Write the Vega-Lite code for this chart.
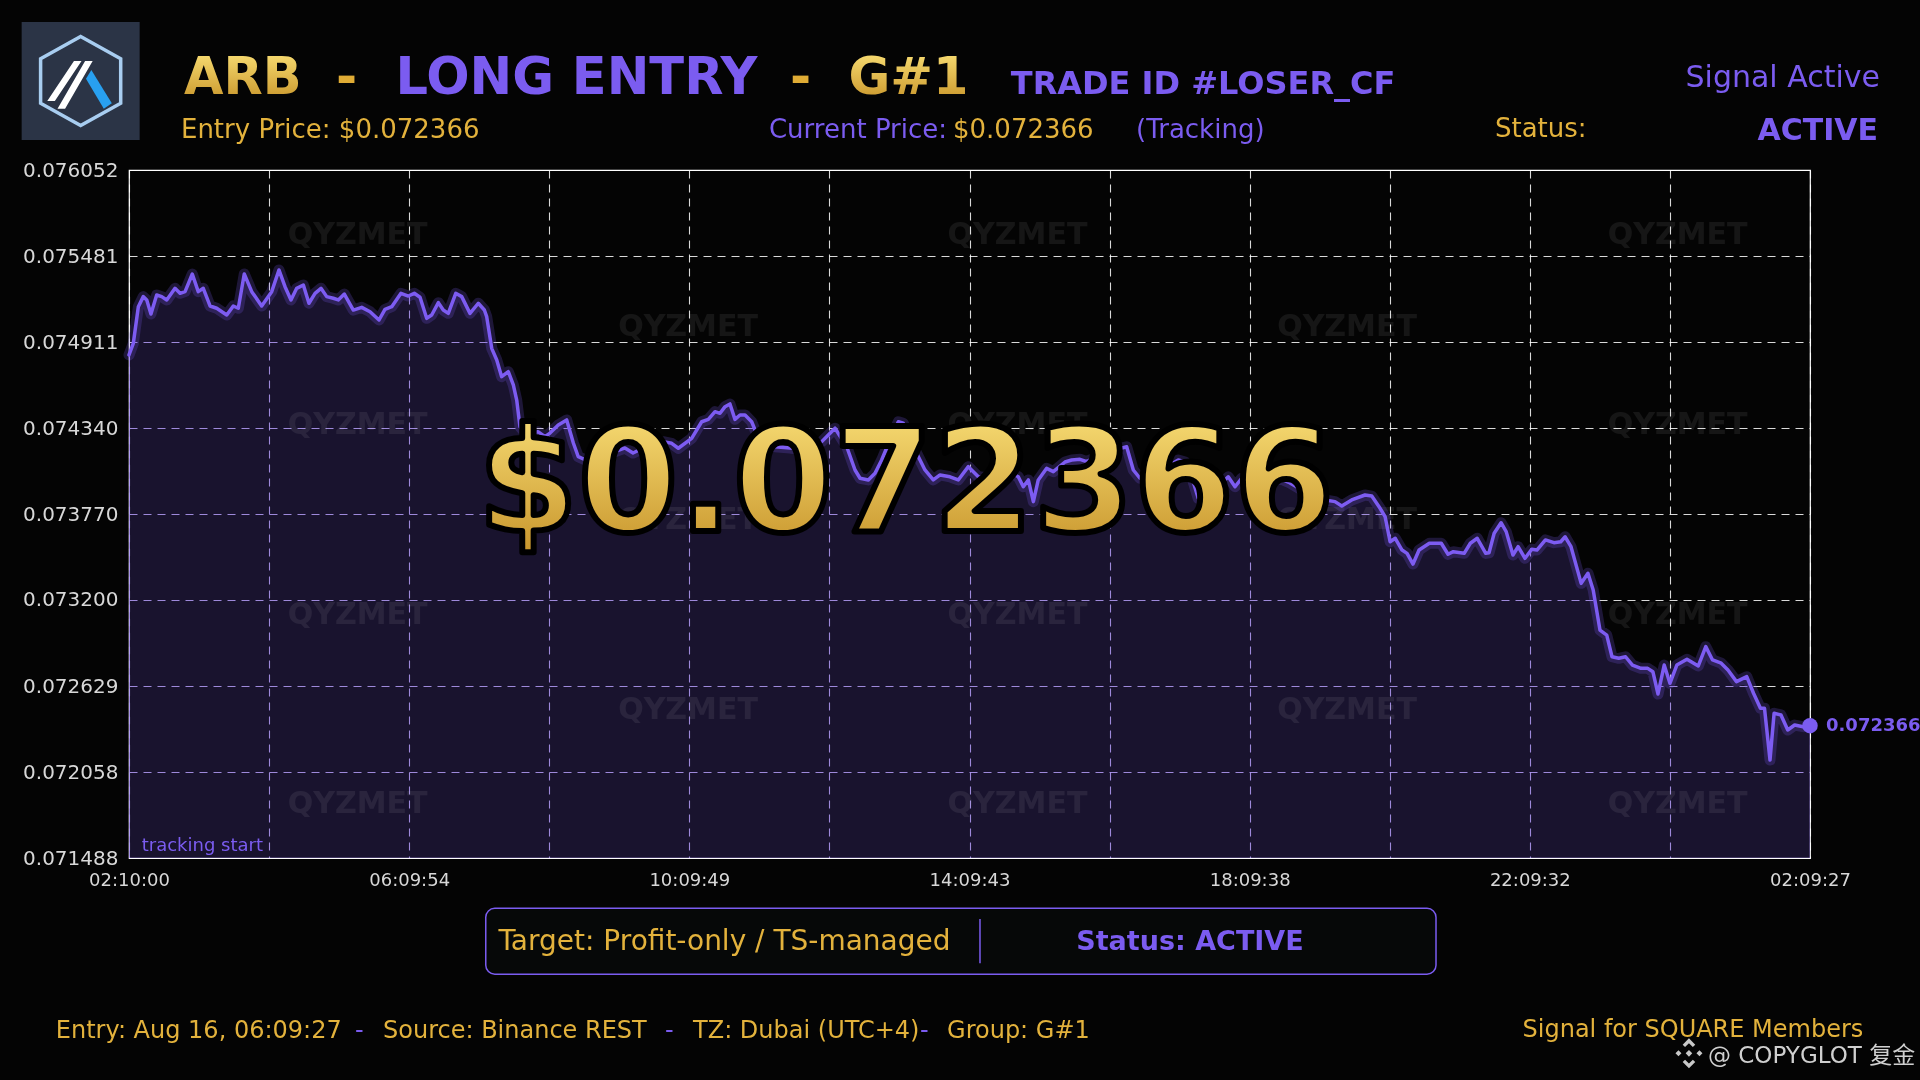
{
  "$schema": "https://vega.github.io/schema/vega-lite/v6.json",
  "width": 1681,
  "height": 688,
  "autosize": {"type": "none"},
  "padding": {"left": 129, "top": 170, "right": 110, "bottom": 222},
  "background": "#040404",
  "config": {
    "font": "DejaVu Sans",
    "view": {"stroke": "#ffffff", "strokeWidth": 1.2},
    "axis": {
      "ticks": false, "domain": false, "labelColor": "#d8d8d8", "labelPadding": 11, "titleOpacity": 0,
      "grid": true, "gridColor": "#ffffff", "gridOpacity": 0.85, "gridDash": [8, 6], "gridWidth": 1.1
    },
    "text": {"baseline": "alphabetic", "align": "left", "font": "DejaVu Sans"}
  },
  "datasets": {
    "price": [
      {"min": 0, "price": 0.074825}, {"min": 3.7, "price": 0.074902}, {"min": 8.0, "price": 0.075145},
      {"min": 12.2, "price": 0.075212}, {"min": 15.2, "price": 0.07519}, {"min": 18.8, "price": 0.075097},
      {"min": 23.7, "price": 0.075223}, {"min": 28.0, "price": 0.075212}, {"min": 32.3, "price": 0.07519},
      {"min": 39.4, "price": 0.075267}, {"min": 43.7, "price": 0.075234}, {"min": 48.0, "price": 0.075245},
      {"min": 54.2, "price": 0.075362}, {"min": 59.3, "price": 0.075245}, {"min": 63.6, "price": 0.075267},
      {"min": 69.4, "price": 0.07515}, {"min": 75.1, "price": 0.075135}, {"min": 83.7, "price": 0.07509},
      {"min": 89.3, "price": 0.07515}, {"min": 93.6, "price": 0.075135}, {"min": 98.7, "price": 0.075362},
      {"min": 105.1, "price": 0.075245}, {"min": 113.6, "price": 0.07515}, {"min": 122.2, "price": 0.075245},
      {"min": 128.4, "price": 0.075389}, {"min": 133.6, "price": 0.075278}, {"min": 138.7, "price": 0.07519},
      {"min": 143.6, "price": 0.075267}, {"min": 149.3, "price": 0.075289}, {"min": 154.1, "price": 0.075168},
      {"min": 159.3, "price": 0.075234}, {"min": 164.4, "price": 0.075267}, {"min": 169.3, "price": 0.075212},
      {"min": 174.9, "price": 0.075201}, {"min": 179.2, "price": 0.07519}, {"min": 184.4, "price": 0.075229},
      {"min": 192.1, "price": 0.075123}, {"min": 199.3, "price": 0.075141}, {"min": 206.4, "price": 0.075112},
      {"min": 214.1, "price": 0.075057}, {"min": 219.2, "price": 0.075128}, {"min": 225.0, "price": 0.075145},
      {"min": 232.9, "price": 0.075234}, {"min": 239.2, "price": 0.075216}, {"min": 244.3, "price": 0.075234},
      {"min": 249.2, "price": 0.075208}, {"min": 254.9, "price": 0.075068}, {"min": 259.2, "price": 0.07509},
      {"min": 264.9, "price": 0.075172}, {"min": 269.1, "price": 0.075123}, {"min": 273.4, "price": 0.075101},
      {"min": 279.8, "price": 0.075234}, {"min": 284.9, "price": 0.075212}, {"min": 292.0, "price": 0.075101},
      {"min": 299.1, "price": 0.075168}, {"min": 304.3, "price": 0.075123}, {"min": 306.3, "price": 0.075079},
      {"min": 310.6, "price": 0.074869}, {"min": 314.9, "price": 0.074792}, {"min": 319.1, "price": 0.074681},
      {"min": 324.8, "price": 0.074714}, {"min": 329.1, "price": 0.074626}, {"min": 332.0, "price": 0.074526},
      {"min": 334.8, "price": 0.074349}, {"min": 340.8, "price": 0.074294}, {"min": 346.2, "price": 0.074309},
      {"min": 350.2, "price": 0.074316}, {"min": 356.2, "price": 0.074283}, {"min": 360.5, "price": 0.074307},
      {"min": 367.6, "price": 0.07436}, {"min": 374.8, "price": 0.074394}, {"min": 380.5, "price": 0.074241},
      {"min": 384.7, "price": 0.07415}, {"min": 394.8, "price": 0.074115}, {"min": 403.3, "price": 0.074142},
      {"min": 413.3, "price": 0.074175}, {"min": 424.7, "price": 0.074208}, {"min": 431.6, "price": 0.074175},
      {"min": 441.9, "price": 0.074214}, {"min": 450.4, "price": 0.074234}, {"min": 457.5, "price": 0.07425},
      {"min": 464.7, "price": 0.074239}, {"min": 470.4, "price": 0.074206}, {"min": 481.8, "price": 0.074272},
      {"min": 490.4, "price": 0.074382}, {"min": 496.1, "price": 0.074398}, {"min": 501.8, "price": 0.074449},
      {"min": 506.1, "price": 0.074438}, {"min": 510.4, "price": 0.074482}, {"min": 514.6, "price": 0.0745},
      {"min": 518.9, "price": 0.074398}, {"min": 523.2, "price": 0.074427}, {"min": 527.5, "price": 0.074427},
      {"min": 533.2, "price": 0.074382}, {"min": 536.1, "price": 0.074327}, {"min": 544.6, "price": 0.074248},
      {"min": 553.2, "price": 0.074216}, {"min": 566.0, "price": 0.074208}, {"min": 578.9, "price": 0.074195},
      {"min": 587.4, "price": 0.074234}, {"min": 593.2, "price": 0.07425}, {"min": 598.8, "price": 0.074294},
      {"min": 604.6, "price": 0.074339}, {"min": 614.6, "price": 0.074216}, {"min": 621.7, "price": 0.074062},
      {"min": 626.0, "price": 0.074007}, {"min": 633.1, "price": 0.073996}, {"min": 638.8, "price": 0.07404},
      {"min": 644.5, "price": 0.074128}, {"min": 651.6, "price": 0.074261}, {"min": 658.8, "price": 0.074382},
      {"min": 663.0, "price": 0.074372}, {"min": 673.1, "price": 0.074195}, {"min": 681.6, "price": 0.074062},
      {"min": 688.7, "price": 0.073996}, {"min": 694.5, "price": 0.074029}, {"min": 703.0, "price": 0.074017},
      {"min": 710.1, "price": 0.073996}, {"min": 718.7, "price": 0.074084}, {"min": 727.3, "price": 0.074017},
      {"min": 737.3, "price": 0.074009}, {"min": 750.1, "price": 0.074062}, {"min": 761.5, "price": 0.074017},
      {"min": 765.8, "price": 0.073951}, {"min": 770.1, "price": 0.073996}, {"min": 774.4, "price": 0.073852},
      {"min": 778.6, "price": 0.073996}, {"min": 785.8, "price": 0.074073}, {"min": 791.5, "price": 0.074051},
      {"min": 801.5, "price": 0.074115}, {"min": 807.2, "price": 0.074128}, {"min": 814.3, "price": 0.074133},
      {"min": 820.1, "price": 0.074117}, {"min": 831.5, "price": 0.074161}, {"min": 844.3, "price": 0.074195},
      {"min": 854.3, "price": 0.074216}, {"min": 860.0, "price": 0.074062}, {"min": 865.7, "price": 0.074007},
      {"min": 874.3, "price": 0.074009}, {"min": 887.1, "price": 0.074075}, {"min": 898.5, "price": 0.074128},
      {"min": 904.3, "price": 0.074115}, {"min": 910.0, "price": 0.074017}, {"min": 915.6, "price": 0.073874},
      {"min": 925.7, "price": 0.073896}, {"min": 934.2, "price": 0.073962}, {"min": 941.3, "price": 0.074017},
      {"min": 947.1, "price": 0.073951}, {"min": 952.8, "price": 0.074007}, {"min": 964.2, "price": 0.074009},
      {"min": 977.0, "price": 0.074009}, {"min": 988.2, "price": 0.073996}, {"min": 994.2, "price": 0.073976},
      {"min": 1004.4, "price": 0.073929}, {"min": 1015.6, "price": 0.073896}, {"min": 1024.2, "price": 0.073863},
      {"min": 1032.7, "price": 0.073852}, {"min": 1038.5, "price": 0.073823}, {"min": 1047.0, "price": 0.073863},
      {"min": 1058.4, "price": 0.073896}, {"min": 1064.2, "price": 0.073889}, {"min": 1071.3, "price": 0.073808},
      {"min": 1075.6, "price": 0.073752}, {"min": 1079.9, "price": 0.073586}, {"min": 1084.3, "price": 0.073609},
      {"min": 1090.1, "price": 0.073531}, {"min": 1094.4, "price": 0.073509}, {"min": 1099.5, "price": 0.073438},
      {"min": 1104.7, "price": 0.073531}, {"min": 1113.5, "price": 0.073576}, {"min": 1123.7, "price": 0.073576},
      {"min": 1129.5, "price": 0.073503}, {"min": 1134.0, "price": 0.07352}, {"min": 1143.3, "price": 0.073509},
      {"min": 1148.6, "price": 0.073576}, {"min": 1154.5, "price": 0.073609}, {"min": 1161.8, "price": 0.073509},
      {"min": 1164.6, "price": 0.073513}, {"min": 1169.0, "price": 0.073642}, {"min": 1174.9, "price": 0.073712},
      {"min": 1179.3, "price": 0.073653}, {"min": 1185.1, "price": 0.073498}, {"min": 1189.5, "price": 0.073553},
      {"min": 1195.4, "price": 0.073476}, {"min": 1201.2, "price": 0.073536}, {"min": 1205.6, "price": 0.073531},
      {"min": 1212.9, "price": 0.073598}, {"min": 1220.2, "price": 0.07358}, {"min": 1226.0, "price": 0.073586},
      {"min": 1229.8, "price": 0.073619}, {"min": 1234.8, "price": 0.073553}, {"min": 1243.5, "price": 0.07331},
      {"min": 1249.3, "price": 0.073377}, {"min": 1253.8, "price": 0.073266}, {"min": 1259.6, "price": 0.073},
      {"min": 1265.4, "price": 0.072967}, {"min": 1269.9, "price": 0.072823}, {"min": 1275.7, "price": 0.072813},
      {"min": 1281.5, "price": 0.072823}, {"min": 1287.4, "price": 0.072768}, {"min": 1294.7, "price": 0.072746},
      {"min": 1300.5, "price": 0.072746}, {"min": 1304.9, "price": 0.072724}, {"min": 1309.3, "price": 0.072576},
      {"min": 1314.6, "price": 0.072768}, {"min": 1319.5, "price": 0.072647}, {"min": 1325.4, "price": 0.072768},
      {"min": 1334.1, "price": 0.072806}, {"min": 1343.8, "price": 0.072762}, {"min": 1350.2, "price": 0.07289},
      {"min": 1356.0, "price": 0.072802}, {"min": 1363.4, "price": 0.07278}, {"min": 1369.2, "price": 0.072735},
      {"min": 1376.5, "price": 0.072658}, {"min": 1385.3, "price": 0.072691}, {"min": 1391.1, "price": 0.072581},
      {"min": 1397.0, "price": 0.072481}, {"min": 1400.5, "price": 0.072481}, {"min": 1405.2, "price": 0.072138},
      {"min": 1408.7, "price": 0.072448}, {"min": 1414.6, "price": 0.072437}, {"min": 1420.4, "price": 0.072337},
      {"min": 1426.3, "price": 0.07237}, {"min": 1433.6, "price": 0.072359}, {"min": 1439.45, "price": 0.072366}
    ],
    "watermark": [
      {"min": 195.8, "price": 0.075621}, {"min": 760.8, "price": 0.075621}, {"min": 1326.1, "price": 0.075621},
      {"min": 478.7, "price": 0.075011}, {"min": 1043.0, "price": 0.075011},
      {"min": 195.8, "price": 0.07436}, {"min": 760.8, "price": 0.07436}, {"min": 1326.1, "price": 0.07436},
      {"min": 478.7, "price": 0.073728}, {"min": 1043.0, "price": 0.073728},
      {"min": 195.8, "price": 0.073102}, {"min": 760.8, "price": 0.073102}, {"min": 1326.1, "price": 0.073102},
      {"min": 478.7, "price": 0.07247}, {"min": 1043.0, "price": 0.07247},
      {"min": 195.8, "price": 0.071843}, {"min": 760.8, "price": 0.071843}, {"min": 1326.1, "price": 0.071843}
    ]
  },
  "layer": [
    {
      "data": {"name": "price"},
      "mark": {"type": "area", "color": "#c3adfd", "blend": "multiply", "opacity": 1},
      "encoding": {
        "x": {
          "field": "min", "type": "quantitative",
          "scale": {"domain": [0, 1439.45], "nice": false, "zero": false},
          "axis": {
            "title": null, "labelFlush": false, "labelFontSize": 18, "labelPadding": 13, "grid": true,
            "values": [0, 119.954167, 239.908333, 359.8625, 479.816667, 599.770833, 719.725, 839.679167, 959.6334, 1079.5875, 1199.541667, 1319.495833, 1439.45],
            "labelExpr": "round(datum.value / 119.954167) % 2 == 0 ? utcFormat(datum.value * 60000 + 7800000, '%H:%M:%S') : ''"
          }
        },
        "y": {
          "field": "price", "type": "quantitative",
          "scale": {"domain": [0.071488, 0.076052], "nice": false, "zero": false},
          "axis": {
            "title": null, "labelFontSize": 20, "format": ".6f", "grid": true,
            "values": [0.071488, 0.072058, 0.072629, 0.0732, 0.07377, 0.07434, 0.074911, 0.075481, 0.076052]
          }
        },
        "y2": {"datum": 0.071488}
      }
    },
    {
      "data": {"name": "price"},
      "mark": {"type": "area", "color": "#7b5cf0", "opacity": 0.18},
      "encoding": {
        "x": {"field": "min", "type": "quantitative"},
        "y": {"field": "price", "type": "quantitative"},
        "y2": {"datum": 0.071488}
      }
    },
    {
      "data": {"name": "watermark"},
      "mark": {"type": "text", "text": "QYZMET", "align": "center", "baseline": "middle", "fontSize": 30, "fontWeight": "bold", "fill": "#ffffff", "opacity": 0.07},
      "encoding": {
        "x": {"field": "min", "type": "quantitative"},
        "y": {"field": "price", "type": "quantitative"}
      }
    },
    {
      "data": {"name": "price"},
      "mark": {"type": "line", "color": "#7b5cf0", "strokeWidth": 11, "opacity": 0.22, "strokeJoin": "round", "strokeCap": "round"},
      "encoding": {
        "x": {"field": "min", "type": "quantitative"},
        "y": {"field": "price", "type": "quantitative"}
      }
    },
    {
      "data": {"name": "price"},
      "mark": {"type": "line", "color": "#7d5cf2", "strokeWidth": 3.5, "strokeJoin": "round", "strokeCap": "round"},
      "encoding": {
        "x": {"field": "min", "type": "quantitative"},
        "y": {"field": "price", "type": "quantitative"}
      }
    },
    {
      "data": {"values": [{}]},
      "mark": {"type": "point", "shape": "circle", "filled": true, "size": 240, "color": "#7b5cf0", "opacity": 1},
      "encoding": {"x": {"datum": 1439.45}, "y": {"datum": 0.072366}}
    },
    {
      "data": {"values": [{}]},
      "mark": {"type": "text", "text": "0.072366", "dx": 16, "baseline": "middle", "fontSize": 18, "fontWeight": "bold", "fill": "#7b5cf0"},
      "encoding": {"x": {"datum": 1439.45}, "y": {"datum": 0.072366}}
    },
    {
      "data": {"values": [{}]},
      "mark": {"type": "text", "text": "tracking start", "fontSize": 18, "fill": "#7b5cf0"},
      "encoding": {"x": {"datum": 10.9}, "y": {"datum": 0.071534}}
    },
    {
      "data": {"values": [{}]},
      "mark": {
        "type": "text", "text": "$0.072366", "align": "center", "fontSize": 144, "fontWeight": "bold",
        "fill": {"gradient": "linear", "x1": 0, "y1": 0, "x2": 0, "y2": 1, "stops": [{"offset": 0, "color": "#fce37b"}, {"offset": 1, "color": "#c48f26"}]},
        "stroke": "#000000", "strokeWidth": 6, "strokeJoin": "round"
      },
      "encoding": {"x": {"datum": 665.3}, "y": {"datum": 0.073657}}
    },
    {
      "data": {"values": [{}]},
      "mark": {"type": "point", "shape": "square", "filled": true, "size": 13924, "color": "#2b3446", "opacity": 1},
      "encoding": {"x": {"datum": -41.4}, "y": {"datum": 0.076642}}
    },
    {
      "data": {"values": [{}]},
      "mark": {"type": "point", "shape": "M0,-1 L0.9,-0.5 L0.9,0.5 L0,1 L-0.9,0.5 L-0.9,-0.5 Z", "filled": false, "size": 7921, "stroke": "#a8cdf0", "strokeWidth": 3.5, "opacity": 1},
      "encoding": {"x": {"datum": -41.4}, "y": {"datum": 0.076642}}
    },
    {
      "data": {"values": [{}]},
      "mark": {"type": "point", "shape": "M-0.75,0.45 L-0.15,-0.45 L0.02,-0.45 L-0.58,0.45 Z M-0.52,0.62 L0.1,-0.45 L0.27,-0.45 L-0.35,0.62 Z", "filled": true, "size": 7921, "color": "#ffffff", "opacity": 1},
      "encoding": {"x": {"datum": -41.4}, "y": {"datum": 0.076642}}
    },
    {
      "data": {"values": [{}]},
      "mark": {"type": "point", "shape": "M0.12,-0.05 L0.24,-0.25 L0.7,0.5 L0.52,0.62 Z", "filled": true, "size": 7921, "color": "#28a0f0", "opacity": 1},
      "encoding": {"x": {"datum": -41.4}, "y": {"datum": 0.076642}}
    },
    {
      "data": {"values": [{}]},
      "mark": {"type": "text", "text": "ARB", "fontSize": 51, "fontWeight": "bold",
        "fill": {"gradient": "linear", "x1": 0, "y1": 0, "x2": 0, "y2": 1, "stops": [{"offset": 0, "color": "#fde47a"}, {"offset": 1, "color": "#c48f24"}]}},
      "encoding": {"x": {"datum": 47.1}, "y": {"datum": 0.076556}}
    },
    {
      "data": {"values": [{}]},
      "mark": {"type": "text", "text": "-", "fontSize": 51, "fontWeight": "bold", "fill": "#e0ac35"},
      "encoding": {"x": {"datum": 177.3}, "y": {"datum": 0.076556}}
    },
    {
      "data": {"values": [{}]},
      "mark": {"type": "text", "text": "LONG ENTRY", "fontSize": 51, "fontWeight": "bold", "fill": "#7b5cf0"},
      "encoding": {"x": {"datum": 228.2}, "y": {"datum": 0.076556}}
    },
    {
      "data": {"values": [{}]},
      "mark": {"type": "text", "text": "-", "fontSize": 51, "fontWeight": "bold", "fill": "#e0ac35"},
      "encoding": {"x": {"datum": 566.0}, "y": {"datum": 0.076556}}
    },
    {
      "data": {"values": [{}]},
      "mark": {"type": "text", "text": "G#1", "fontSize": 51, "fontWeight": "bold",
        "fill": {"gradient": "linear", "x1": 0, "y1": 0, "x2": 0, "y2": 1, "stops": [{"offset": 0, "color": "#fde47a"}, {"offset": 1, "color": "#c48f24"}]}},
      "encoding": {"x": {"datum": 616.1}, "y": {"datum": 0.076556}}
    },
    {
      "data": {"values": [{}]},
      "mark": {"type": "text", "text": "TRADE ID #LOSER_CF", "fontSize": 32, "fontWeight": "bold", "fill": "#7b5cf0"},
      "encoding": {"x": {"datum": 755.1}, "y": {"datum": 0.076556}}
    },
    {
      "data": {"values": [{}]},
      "mark": {"type": "text", "text": "Signal Active", "align": "right", "fontSize": 30, "fill": "#7b5cf0"},
      "encoding": {"x": {"datum": 1499.4}, "y": {"datum": 0.076605}}
    },
    {
      "data": {"values": [{}]},
      "mark": {"type": "text", "text": "Entry Price: $0.072366", "fontSize": 26, "fill": "#e3b23c"},
      "encoding": {"x": {"datum": 44.5}, "y": {"datum": 0.076264}}
    },
    {
      "data": {"values": [{}]},
      "mark": {"type": "text", "text": "Current Price:", "fontSize": 26, "fill": "#7b5cf0"},
      "encoding": {"x": {"datum": 548.0}, "y": {"datum": 0.076264}}
    },
    {
      "data": {"values": [{}]},
      "mark": {"type": "text", "text": "$0.072366", "fontSize": 26, "fill": "#e3b23c"},
      "encoding": {"x": {"datum": 705.6}, "y": {"datum": 0.076264}}
    },
    {
      "data": {"values": [{}]},
      "mark": {"type": "text", "text": "(Tracking)", "fontSize": 26, "fill": "#7b5cf0"},
      "encoding": {"x": {"datum": 862.3}, "y": {"datum": 0.076264}}
    },
    {
      "data": {"values": [{}]},
      "mark": {"type": "text", "text": "Status:", "fontSize": 26, "fill": "#e3b23c"},
      "encoding": {"x": {"datum": 1169.7}, "y": {"datum": 0.076269}}
    },
    {
      "data": {"values": [{}]},
      "mark": {"type": "text", "text": "ACTIVE", "align": "right", "fontSize": 30, "fontWeight": "bold", "fill": "#7b5cf0"},
      "encoding": {"x": {"datum": 1497.7}, "y": {"datum": 0.076251}}
    },
    {
      "data": {"values": [{}]},
      "mark": {"type": "rect", "cornerRadius": 9, "fill": "#060808", "stroke": "#7b5cf0", "strokeWidth": 1.5},
      "encoding": {
        "x": {"datum": 305.5}, "x2": {"datum": 1119.2},
        "y": {"datum": 0.071154}, "y2": {"datum": 0.070717}
      }
    },
    {
      "data": {"values": [{}]},
      "mark": {"type": "rule", "color": "#7b5cf0", "strokeWidth": 1.5},
      "encoding": {
        "x": {"datum": 728.7},
        "y": {"datum": 0.071083}, "y2": {"datum": 0.070789}
      }
    },
    {
      "data": {"values": [{}]},
      "mark": {"type": "text", "text": "Target: Profit-only / TS-managed", "fontSize": 28, "fill": "#e3b23c"},
      "encoding": {"x": {"datum": 316.3}, "y": {"datum": 0.070878}}
    },
    {
      "data": {"values": [{}]},
      "mark": {"type": "text", "text": "Status: ACTIVE", "align": "center", "fontSize": 27, "fontWeight": "bold", "fill": "#7b5cf0"},
      "encoding": {"x": {"datum": 908.5}, "y": {"datum": 0.070878}}
    },
    {
      "data": {"values": [{}]},
      "mark": {"type": "text", "text": "Entry: Aug 16, 06:09:27", "fontSize": 24, "fill": "#e3b23c"},
      "encoding": {"x": {"datum": -62.7}, "y": {"datum": 0.070296}}
    },
    {
      "data": {"values": [{}]},
      "mark": {"type": "text", "text": "-", "fontSize": 24, "fill": "#7b5cf0"},
      "encoding": {"x": {"datum": 193.5}, "y": {"datum": 0.070296}}
    },
    {
      "data": {"values": [{}]},
      "mark": {"type": "text", "text": "Source: Binance REST", "fontSize": 24, "fill": "#e3b23c"},
      "encoding": {"x": {"datum": 217.5}, "y": {"datum": 0.070296}}
    },
    {
      "data": {"values": [{}]},
      "mark": {"type": "text", "text": "-", "fontSize": 24, "fill": "#7b5cf0"},
      "encoding": {"x": {"datum": 459.0}, "y": {"datum": 0.070296}}
    },
    {
      "data": {"values": [{}]},
      "mark": {"type": "text", "text": "TZ: Dubai (UTC+4)", "fontSize": 24, "fill": "#e3b23c"},
      "encoding": {"x": {"datum": 483.0}, "y": {"datum": 0.070296}}
    },
    {
      "data": {"values": [{}]},
      "mark": {"type": "text", "text": "-", "fontSize": 24, "fill": "#7b5cf0"},
      "encoding": {"x": {"datum": 677.3}, "y": {"datum": 0.070296}}
    },
    {
      "data": {"values": [{}]},
      "mark": {"type": "text", "text": "Group: G#1", "fontSize": 24, "fill": "#e3b23c"},
      "encoding": {"x": {"datum": 700.5}, "y": {"datum": 0.070296}}
    },
    {
      "data": {"values": [{}]},
      "mark": {"type": "text", "text": "Signal for SQUARE Members", "align": "right", "fontSize": 24, "fill": "#e3b23c"},
      "encoding": {"x": {"datum": 1485.1}, "y": {"datum": 0.070303}}
    },
    {
      "data": {"values": [{}]},
      "mark": {"type": "point", "shape": "M0,-1 L0.42,-0.58 L0.26,-0.42 L0,-0.68 L-0.26,-0.42 L-0.42,-0.58 Z M0,1 L0.42,0.58 L0.26,0.42 L0,0.68 L-0.26,0.42 L-0.42,0.58 Z M-0.9,0 L-0.7,-0.2 L-0.5,0 L-0.7,0.2 Z M0.9,0 L0.7,-0.2 L0.5,0 L0.7,0.2 Z M0,-0.22 L0.22,0 L0,0.22 L-0.22,0 Z", "filled": true, "size": 900, "color": "#c8c8c8", "opacity": 1},
      "encoding": {"x": {"datum": 1335.8}, "y": {"datum": 0.070192}}
    },
    {
      "data": {"values": [{}]},
      "mark": {"type": "text", "text": "@ COPYGLOT 复金", "fontSize": 23, "font": "DejaVu Sans, Noto Sans CJK SC", "fill": "#cfcfcf"},
      "encoding": {"x": {"datum": 1352.1}, "y": {"datum": 0.07013}}
    }
  ]
}
